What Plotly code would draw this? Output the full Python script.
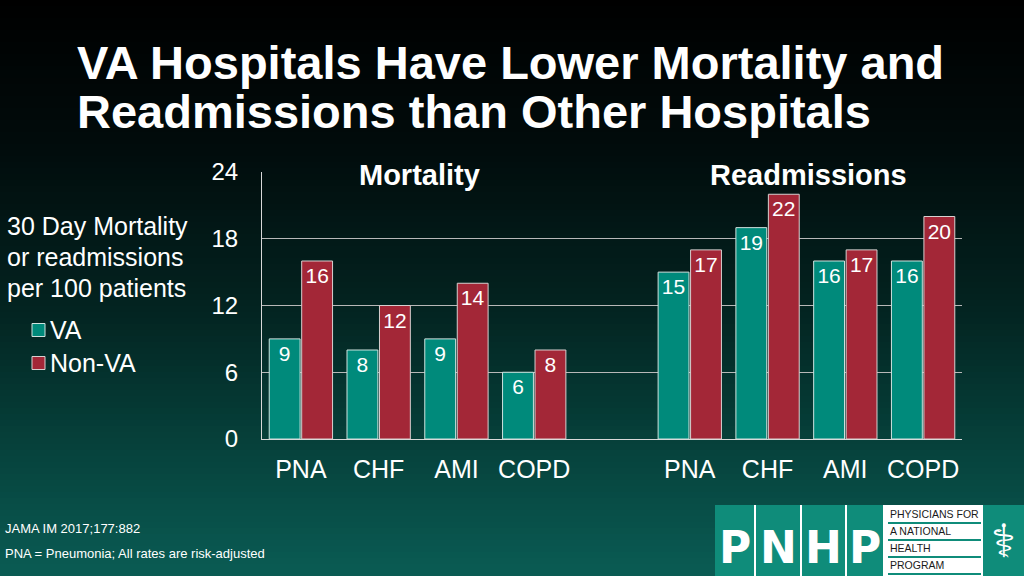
import plotly.graph_objects as go

# ---- data ----
conditions = ["PNA", "CHF", "AMI", "COPD"]
panels = ["Mortality", "Readmissions"]
va_mortality = [9, 8, 9, 6]
nonva_mortality = [16, 12, 14, 8]
va_readmissions = [15, 19, 16, 16]
nonva_readmissions = [17, 22, 17, 20]
y_ticks = [0, 6, 12, 18, 24]
series_names = ["VA", "Non-VA"]
title_lines = ["VA Hospitals Have Lower Mortality and", "Readmissions than Other Hospitals"]
ylabel_lines = ["30 Day Mortality", "or readmissions", "per 100 patients"]
footnotes = ["JAMA IM 2017;177:882", "PNA = Pneumonia; All rates are risk-adjusted"]

# category ids (spacer between the two panels)
cats = [f"M-{c}" for c in conditions] + ["gap"] + [f"R-{c}" for c in conditions]
ticktext = conditions + [""] + conditions
va_vals = va_mortality + [None] + va_readmissions
nonva_vals = nonva_mortality + [None] + nonva_readmissions

W, H = 1024, 576
L, R, T, B = 262, 962, 172, 439
VA_COLOR, NONVA_COLOR = "#008a7b", "#a32737"


def X(px):
    return (px - L) / (R - L)


def Y(py):
    return (B - py) / (B - T)


fig = go.Figure()
for name, vals, color, lc in [(series_names[0], va_vals, VA_COLOR, "#cfe3df"),
                              (series_names[1], nonva_vals, NONVA_COLOR, "#d8d0d0")]:
    fig.add_trace(go.Bar(
        x=cats, y=vals, name=name,
        marker=dict(color=color, line=dict(color=lc, width=1)),
        texttemplate="%{y}", textposition="inside", insidetextanchor="end",
        textfont=dict(color="white", size=21, family="Liberation Sans"),
        textangle=0, constraintext="none",
    ))

shapes = []
# background gradient (bands)
stops = [(0, (0, 0, 0)), (150, (1, 12, 12)), (300, (3, 34, 31)),
         (450, (6, 66, 60)), (576, (10, 92, 84))]


def col_at(py):
    for (a, ca), (b, cb) in zip(stops[:-1], stops[1:]):
        if a <= py <= b:
            t = (py - a) / (b - a)
            return tuple(round(ca[i] + (cb[i] - ca[i]) * t) for i in range(3))
    return stops[-1][1]


band = 6
for y0 in range(0, H, band):
    c = col_at(y0 + band / 2)
    shapes.append(dict(type="rect", xref="paper", yref="paper", layer="below",
                       x0=X(0), x1=X(W), y0=Y(y0 + band + 0.5), y1=Y(y0),
                       fillcolor=f"rgb{c}", line=dict(width=0)))

# logo
teal = "#0f8c7a"
shapes.append(dict(type="rect", xref="paper", yref="paper", x0=X(715), x1=X(1024),
                   y0=Y(576), y1=Y(505), fillcolor=teal, line=dict(width=0)))
for sx in [755, 801, 846, 884]:
    shapes.append(dict(type="line", xref="paper", yref="paper", x0=X(sx), x1=X(sx),
                       y0=Y(576), y1=Y(505), line=dict(color="white", width=2)))
shapes.append(dict(type="rect", xref="paper", yref="paper", x0=X(885), x1=X(983),
                   y0=Y(576), y1=Y(505), fillcolor="white", line=dict(width=0)))
for ly in [523, 540, 557, 574]:
    shapes.append(dict(type="line", xref="paper", yref="paper", x0=X(888), x1=X(981),
                       y0=Y(ly), y1=Y(ly), line=dict(color=teal, width=2)))

# manual legend swatches
for i, (color, lc) in enumerate([(VA_COLOR, "#cfe3df"), (NONVA_COLOR, "#d8d0d0")]):
    cy = 330 + 33 * i
    shapes.append(dict(type="rect", xref="paper", yref="paper", x0=X(32), x1=X(45),
                       y0=Y(cy + 6.5), y1=Y(cy - 6.5), fillcolor=color, line=dict(color=lc, width=1)))

annotations = []
# title
for i, line in enumerate(title_lines):
    annotations.append(dict(xref="paper", yref="paper", x=X(75), y=Y(62 + 50 * i), xanchor="left", yanchor="middle",
                            text=f"<b>{line}</b>", showarrow=False,
                            font=dict(family="Liberation Sans", size=47, color="white")))
# panel titles
for name, cx in zip(panels, [419, 808]):
    annotations.append(dict(xref="paper", yref="paper", x=X(cx), y=Y(175), xanchor="center", yanchor="middle",
                            text=f"<b>{name}</b>", showarrow=False,
                            font=dict(family="Liberation Sans", size=29, color="white")))
# y-axis description
for i, line in enumerate(ylabel_lines):
    annotations.append(dict(xref="paper", yref="paper", x=X(5), y=Y(226 + 31 * i), xanchor="left", yanchor="middle",
                            text=line, showarrow=False,
                            font=dict(family="Liberation Sans", size=25, color="white")))
# legend labels
for i, name in enumerate(series_names):
    annotations.append(dict(xref="paper", yref="paper", x=X(48), y=Y(330 + 33 * i), xanchor="left", yanchor="middle",
                            text=name, showarrow=False,
                            font=dict(family="Liberation Sans", size=25, color="white")))
# footnotes
for i, line in enumerate(footnotes):
    annotations.append(dict(xref="paper", yref="paper", x=X(3), y=Y(528 + 25 * i), xanchor="left", yanchor="middle",
                            text=line, showarrow=False,
                            font=dict(family="Liberation Sans", size=13, color="white")))
# logo letters
for letter, cx in zip("PNHP", [735, 778, 823, 865]):
    annotations.append(dict(xref="paper", yref="paper", x=X(cx), y=Y(547), xanchor="center", yanchor="middle",
                            text=f"<b>{letter}</b>", showarrow=False,
                            font=dict(family="DejaVu Sans", size=44, color="white")))
for line_txt, ly in zip(["PHYSICIANS FOR", "A NATIONAL", "HEALTH", "PROGRAM"], [514, 531, 548, 565]):
    annotations.append(dict(xref="paper", yref="paper", x=X(888), y=Y(ly), xanchor="left", yanchor="middle",
                            text=line_txt, showarrow=False,
                            font=dict(family="Liberation Sans", size=10.5, color="#1a1a1a")))
annotations.append(dict(xref="paper", yref="paper", x=X(1003), y=Y(541), xanchor="center", yanchor="middle",
                        text="⚕", showarrow=False,
                        font=dict(family="DejaVu Sans", size=46, color="white")))

fig.update_layout(
    width=W, height=H,
    margin=dict(l=L, r=W - R, t=T, b=H - B),
    paper_bgcolor="#04302b", plot_bgcolor="rgba(0,0,0,0)",
    barmode="group", bargap=0.165, bargroupgap=0.05,
    shapes=shapes, annotations=annotations,
    showlegend=False,
    xaxis=dict(tickmode="array", tickvals=cats, ticktext=ticktext,
               tickfont=dict(family="Liberation Sans", size=25, color="white"),
               showgrid=False, showline=True, linecolor="#d8d8d8", linewidth=1,
               ticks="outside", ticklen=8, tickcolor="rgba(0,0,0,0)", fixedrange=True),
    yaxis=dict(range=[0, 24], tickvals=y_ticks,
               tickfont=dict(family="Liberation Sans", size=24, color="white"),
               showgrid=True, gridcolor="#b8b8b8", gridwidth=1,
               showline=True, linecolor="#d8d8d8", linewidth=1, zeroline=False,
               ticks="outside", ticklen=18, tickcolor="rgba(0,0,0,0)"),
)

fig.write_html("out.html", config={"displayModeBar": False},
               post_script="document.body.style.margin='0px';document.body.style.overflow='hidden';")
